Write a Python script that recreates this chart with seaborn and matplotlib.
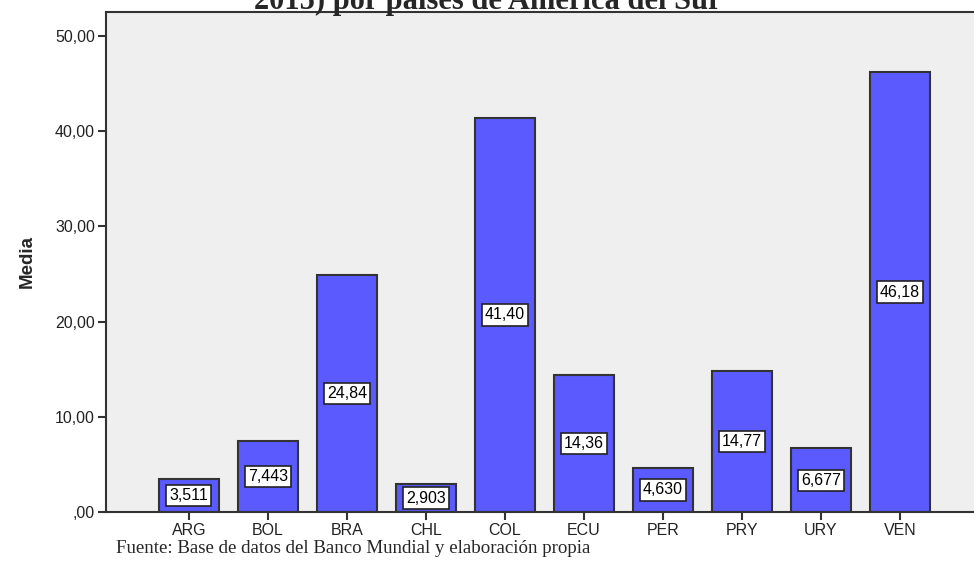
#!/usr/bin/env python3
"""
Bar chart of mean values by South American country (SPSS-style look).
"""
import matplotlib
matplotlib.use("Agg")
import matplotlib.pyplot as plt
import pandas as pd
import seaborn as sns

countries = ["ARG", "BOL", "BRA", "CHL", "COL", "ECU", "PER", "PRY", "URY", "VEN"]
means = [3.511, 7.443, 24.84, 2.903, 41.40, 14.36, 4.630, 14.77, 6.677, 46.18]
y_ticks = [0, 10, 20, 30, 40, 50]
y_tick_labels = [",00", "10,00", "20,00", "30,00", "40,00", "50,00"]
title_text = "2015) por países de América del Sur"
source_text = "Fuente: Base de datos del Banco Mundial y elaboración propia"


def fmt_value(v):
    """Four significant digits with decimal comma, as SPSS prints them."""
    decimals = 3 if v < 10 else 2
    return f"{v:.{decimals}f}".replace(".", ",")


df = pd.DataFrame({"pais": countries, "media": means})

sns.set_style("white")
plt.rcParams["font.family"] = ["Liberation Sans", "DejaVu Sans"]

fig = plt.figure(figsize=(9.74, 5.63), dpi=100)
ax = fig.add_axes([106 / 974, 51 / 563, 868 / 974, 500 / 563])
ax.set_facecolor("#efefef")

sns.barplot(
    data=df, x="pais", y="media", order=countries, ax=ax,
    color="#5a5aff", saturation=1, width=0.76,
    edgecolor="#333333", linewidth=1.5, errorbar=None
)

for i, v in enumerate(means):
    ax.text(
        i, v / 2, fmt_value(v), ha="center", va="center", fontsize=11.5,
        color="black",
        bbox=dict(boxstyle="square,pad=0.2", facecolor="white",
                  edgecolor="#222222", linewidth=1.2)
    )

ax.set_xlim(-1.05, 9.94)
ax.set_ylim(0, 52.5)
ax.set_yticks(y_ticks)
ax.set_yticklabels(y_tick_labels)
ax.tick_params(axis="both", which="both", direction="out", length=6,
               width=1.5, color="#333333", labelsize=11.5, labelcolor="#222222",
               left=True, bottom=True, pad=2)

for side in ["left", "bottom", "top"]:
    ax.spines[side].set_color("#333333")
    ax.spines[side].set_linewidth(1.5)
ax.spines["right"].set_visible(False)

ax.set_xlabel("")
ax.set_ylabel("Media", fontsize=13.5, fontweight="bold", labelpad=14)

fig.text(488, 563 - 9, title_text, transform=None,
         ha="center", va="baseline", fontsize=22, fontweight="bold",
         family=["Liberation Serif", "DejaVu Serif"])
fig.text(116, 563 - 553, source_text, transform=None,
         ha="left", va="baseline", fontsize=13.6,
         family=["Liberation Serif", "DejaVu Serif"])

plt.savefig("out.png", dpi=100)
